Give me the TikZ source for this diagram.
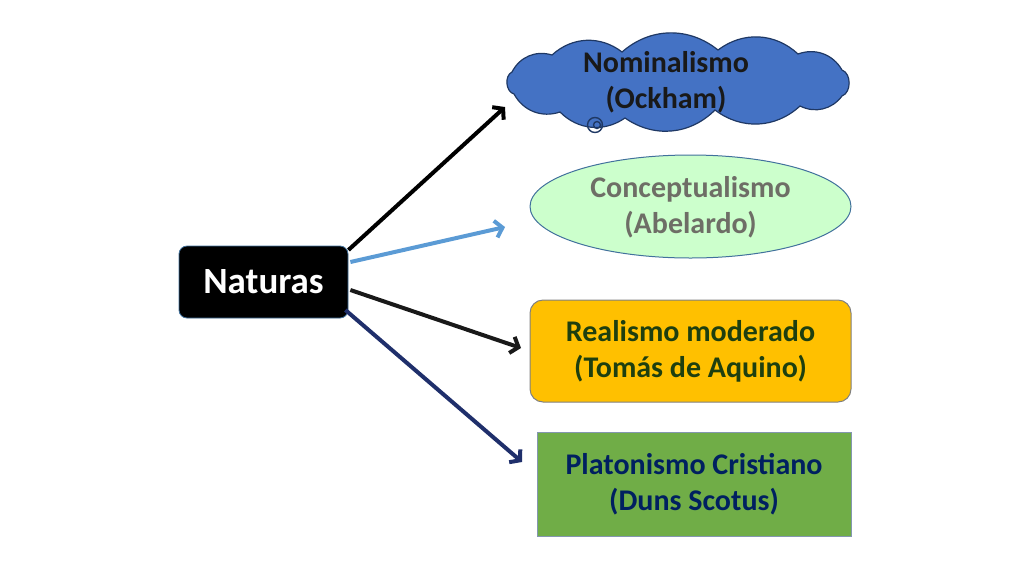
\documentclass[tikz,border=0pt]{standalone}
\usepackage{fontspec}
\setmainfont{Carlito}
\usetikzlibrary{shapes.geometric,arrows.meta,calc}
\definecolor{cloudfill}{HTML}{4472C4}
\definecolor{cloudline}{HTML}{1F3864}
\definecolor{ellfill}{HTML}{CCFFCC}
\definecolor{ellline}{HTML}{41719C}
\definecolor{elltext}{HTML}{6E6E66}
\definecolor{realfill}{HTML}{FFC000}
\definecolor{realtext}{HTML}{1E3F0F}
\definecolor{platfill}{HTML}{70AD47}
\definecolor{plattext}{HTML}{002060}
\definecolor{boxline}{HTML}{8497B0}
\definecolor{arrowblue}{HTML}{5B9BD5}
\definecolor{arrownavy}{HTML}{1F2F6B}
\tikzset{
  lbl/.style={font=\bfseries\fontsize{30}{36}\selectfont, align=center, inner sep=0pt},
  conn/.style={line width=4pt, -{Straight Barb[length=7pt,width=17pt,line width=4pt]}},
  puff/.style={bend left=40},
  bigpuff/.style={bend left=70},
}
\begin{document}
\begin{tikzpicture}[x=1pt,y=-1pt]
\useasboundingbox (0,0) rectangle (1024,576);
% Naturas
\node[draw=ellline, line width=0.8pt, fill=black, rounded corners=8pt,
      minimum width=169pt, minimum height=72pt, inner sep=0pt,
      text=white, font=\bfseries\fontsize{37}{40}\selectfont] (nat) at (263.5,282) {Naturas};
% cloud (drawn outline)
\draw[cloudline, line width=1.2pt, fill=cloudfill]
  (512,72) to[puff] (552,55) to[puff] (622,52) to[puff] (718,50) to[puff] (798,54)
  to[puff] (842,70) to[bigpuff] (842,96) to[puff] (800,106) to[puff] (715,110)
  to[puff] (625,118) to[puff] (560,112) to[puff] (514,94) to[bigpuff] cycle;
\node[lbl, text=black!90] (nomt) at (666,82) {Nominalismo\\(Ockham)};
\coordinate (nom) at (678,84);
\draw[cloudline, line width=1.4pt] (595,125) circle (7.5) (597,125) circle (3.5);
% ellipse
\node[ellipse, draw=ellline, line width=1pt, fill=ellfill,
      minimum width=321pt, minimum height=103pt, inner sep=0pt] (con) at (690.5,206.5) {};
\node[lbl, text=elltext] (cont) at (690.5,207) {Conceptualismo\\(Abelardo)};
% Realismo
\node[lbl, draw=gray, line width=1pt, fill=realfill, rounded corners=13pt,
      minimum width=321pt, minimum height=102pt, text=realtext] (rea) at (690.5,351) {Realismo moderado\\(Tomás de Aquino)};
% Platonismo
\node[lbl, draw=boxline, line width=1pt, fill=platfill,
      minimum width=314pt, minimum height=104pt, text=plattext] (pla) at (694,484) {Platonismo Cristiano\\(Duns Scotus)};
% arrow ends
\coordinate (e1) at (505,107);
\coordinate (e2) at (505,227);
\coordinate (e3) at (521,348);
\coordinate (e4) at (522,462);
\draw[conn, black] ([yshift=32pt]nat.east) -- (e1);
\draw[conn, arrowblue] ([xshift=2pt,yshift=20pt]nat.east) -- (e2);
\draw[conn, black!90] ([xshift=2pt,yshift=-8pt]nat.east) -- (e3);
\draw[conn, arrownavy] ([xshift=-3pt,yshift=-28pt]nat.east) -- (e4);
\end{tikzpicture}
\end{document}
